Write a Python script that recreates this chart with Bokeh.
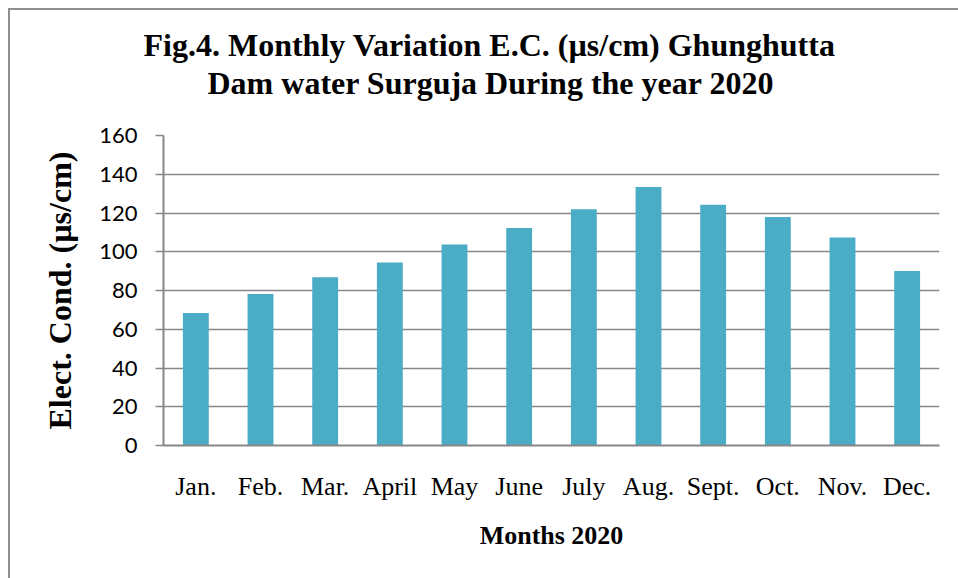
from bokeh.plotting import figure
from bokeh.models import Range1d, FixedTicker, ColumnDataSource, Title
from bokeh.embed import file_html
from bokeh.resources import INLINE

months = ["Jan.", "Feb.", "Mar.", "April", "May", "June", "July", "Aug.", "Sept.", "Oct.", "Nov.", "Dec."]
ec_values = [68.4, 78.2, 86.9, 94.5, 103.8, 112.3, 121.9, 133.4, 124.2, 118.0, 107.3, 90.1]
y_ticks = [0, 20, 40, 60, 80, 100, 120, 140, 160]

title_line1 = "Fig.4. Monthly Variation E.C. (µs/cm) Ghunghutta"
title_line2 = "Dam water Surguja During the year 2020"
y_label = "Elect. Cond. (µs/cm)"
x_label = "Months 2020"

source = ColumnDataSource(data=dict(month=months, ec=ec_values))

p = figure(
    x_range=months,
    y_range=Range1d(0, 160),
    width=950,
    height=570,
    output_backend="svg",
    toolbar_location=None,
    min_border_left=155,
    min_border_right=19,
    min_border_top=127,
    min_border_bottom=133,
)

p.vbar(x="month", top="ec", width=0.4, source=source, fill_color="#4BACC6", line_color=None)

grey = "#878787"
p.outline_line_color = None
p.background_fill_color = "white"
p.border_fill_color = None
p.styles = {
    "margin-left": "8px",
    "margin-top": "8px",
    "box-shadow": "inset 2px 2px 0 0 #8f8f8f",
    "background-color": "white",
}

p.xgrid.grid_line_color = None
p.ygrid.grid_line_color = grey
p.ygrid.grid_line_width = 1.5

p.yaxis.ticker = FixedTicker(ticks=y_ticks)
p.yaxis.axis_line_color = grey
p.yaxis.axis_line_width = 2
p.yaxis.major_tick_line_color = grey
p.yaxis.major_tick_line_width = 1.5
p.yaxis.major_tick_out = 8
p.yaxis.major_tick_in = 0
p.yaxis.minor_tick_line_color = None
p.yaxis.major_label_text_font = "Lato"
p.yaxis.major_label_text_font_size = "22px"
p.yaxis.major_label_text_color = "black"
p.yaxis.major_label_standoff = 18
p.yaxis.axis_label = y_label
p.yaxis.axis_label_text_font = "Liberation Serif"
p.yaxis.axis_label_text_font_style = "bold"
p.yaxis.axis_label_text_font_size = "32px"
p.yaxis.axis_label_text_color = "black"
p.yaxis.axis_label_standoff = 18

p.xaxis.axis_line_color = grey
p.xaxis.axis_line_width = 2
p.xaxis.major_tick_line_color = None
p.xaxis.major_tick_out = 0
p.xaxis.major_tick_in = 0
p.xaxis.major_label_text_font = "Liberation Serif"
p.xaxis.major_label_text_font_size = "26px"
p.xaxis.major_label_text_color = "black"
p.xaxis.major_label_standoff = 26
p.xaxis.axis_label = x_label
p.xaxis.axis_label_text_font = "Liberation Serif"
p.xaxis.axis_label_text_font_style = "bold"
p.xaxis.axis_label_text_font_size = "26px"
p.xaxis.axis_label_text_color = "black"
p.xaxis.axis_label_standoff = 17

p.title.text = ""

title_style = dict(align="left", standoff=0, text_font="Liberation Serif",
                   text_font_style="bold", text_font_size="32px", text_color="black")
# spacer between the frame and the title (closest to the frame)
p.add_layout(Title(text=" ", text_font_size="10px", standoff=22), "above")
p.add_layout(Title(text=title_line2, offset=44, **title_style), "above")
p.add_layout(Title(text=title_line1, offset=-20, **title_style), "above")

open("out.html", "w").write(file_html(p, INLINE))
